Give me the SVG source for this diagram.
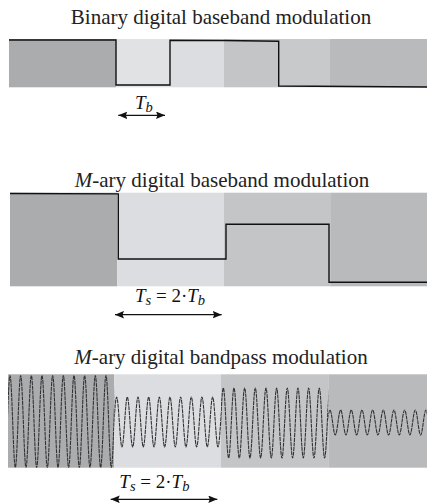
<svg xmlns="http://www.w3.org/2000/svg" width="427" height="504" viewBox="0 0 427 504">
  <style>
    .title { font-family: "Liberation Serif", "Times New Roman", serif; font-size: 21px; fill: #222; text-anchor: middle; }
    .lbl { font-family: "Liberation Serif", "Times New Roman", serif; font-size: 19px; fill: #111; }
    .it { font-style: italic; }
    .sub { font-size: 14.5px; }
    .sig { fill: none; stroke: #111; stroke-width: 1.4; stroke-linejoin: miter; }
    .wave { fill: none; stroke: #333; stroke-width: 1.1; stroke-dasharray: 4 0.7; }
    .dim { stroke: #111; stroke-width: 1.3; marker-start: url(#head); marker-end: url(#head); }
    .s1 { fill: #abacae; }
    .s2 { fill: #dcdde0; }
    .s3 { fill: #c4c5c7; }
    .s4 { fill: #b9babc; }
  </style>
  <defs>
    <marker id="head" markerUnits="userSpaceOnUse" markerWidth="10" markerHeight="8" refX="9" refY="3.8" orient="auto-start-reverse">
      <path d="M0,0 L9,3.8 L0,7.6 L1.5,3.8 Z" fill="#111"/>
    </marker>
    <clipPath id="c1"><rect x="8" y="374.3" width="106.3" height="93.4"/></clipPath>
    <clipPath id="c2"><rect x="114.3" y="374.3" width="106.7" height="93.4"/></clipPath>
    <clipPath id="c3"><rect x="221" y="374.3" width="107.3" height="93.4"/></clipPath>
    <clipPath id="c4"><rect x="328.3" y="374.3" width="98.7" height="93.4"/></clipPath>
  </defs>

  <!-- binary baseband -->
  <g id="binary-baseband">
    <text class="title" x="221" y="24">Binary digital baseband modulation</text>
    <rect class="s1" x="9" y="39" width="107" height="48.3"/>
    <rect fill="#e1e2e4" x="116" y="39" width="54" height="48.3"/>
    <rect class="s2" x="170" y="39" width="54" height="48.3"/>
    <rect class="s3" x="224" y="39" width="55" height="48.3"/>
    <rect fill="#c8c9cb" x="279" y="39" width="51" height="48.3"/>
    <rect class="s4" x="330" y="39" width="97" height="48.3"/>
    <path class="sig" d="M9,40 L116,40 L116,85 L170,85 L170,40.2 L224,40.5 L278.7,41.2 L278.7,86 L427,87"/>
  </g>

  <!-- M-ary baseband -->
  <g id="mary-baseband">
    <text class="title" x="222" y="186.7"><tspan class="it">M</tspan>-ary digital baseband modulation</text>
    <rect class="s1" x="10" y="192.7" width="107.3" height="93.6"/>
    <rect class="s2" x="117.3" y="192.7" width="106.7" height="93.6"/>
    <rect class="s3" x="224" y="192.7" width="107" height="93.6"/>
    <rect class="s4" x="331" y="192.7" width="96" height="93.6"/>
    <path class="sig" d="M10,193.5 L118.3,193.9 L118.3,259 L226,259 L226,224.3 L329,224.3 L329,282.3 L427,282.3"/>
  </g>

  <!-- M-ary bandpass -->
  <g id="mary-bandpass">
    <text class="title" x="221" y="364.3"><tspan class="it">M</tspan>-ary digital bandpass modulation</text>
    <rect class="s1" x="8" y="374.3" width="106.3" height="93.4"/>
    <rect class="s2" x="114.3" y="374.3" width="106.7" height="93.4"/>
    <rect class="s3" x="221" y="374.3" width="107.3" height="93.4"/>
    <rect class="s4" x="328.3" y="374.3" width="98.7" height="93.4"/>
    <!-- one carrier per symbol, cut at the symbol edges -->
    <path class="wave" clip-path="url(#c1)" d="M-0.665,375.5c1.943,0 3.389,92 5.3325,92s3.389,-92 5.3325,-92s3.389,92 5.3325,92s3.389,-92 5.3325,-92s3.389,92 5.3325,92s3.389,-92 5.3325,-92s3.389,92 5.3325,92s3.389,-92 5.3325,-92s3.389,92 5.3325,92s3.389,-92 5.3325,-92s3.389,92 5.3325,92s3.389,-92 5.3325,-92s3.389,92 5.3325,92s3.389,-92 5.3325,-92s3.389,92 5.3325,92s3.389,-92 5.3325,-92s3.389,92 5.3325,92s3.389,-92 5.3325,-92s3.389,92 5.3325,92s3.389,-92 5.3325,-92s3.389,92 5.3325,92s3.389,-92 5.3325,-92s3.389,92 5.3325,92s3.389,-92 5.3325,-92"/>
    <path class="wave" clip-path="url(#c2)" d="M105.985,397c1.943,0 3.389,50 5.3325,50s3.389,-50 5.3325,-50s3.389,50 5.3325,50s3.389,-50 5.3325,-50s3.389,50 5.3325,50s3.389,-50 5.3325,-50s3.389,50 5.3325,50s3.389,-50 5.3325,-50s3.389,50 5.3325,50s3.389,-50 5.3325,-50s3.389,50 5.3325,50s3.389,-50 5.3325,-50s3.389,50 5.3325,50s3.389,-50 5.3325,-50s3.389,50 5.3325,50s3.389,-50 5.3325,-50s3.389,50 5.3325,50s3.389,-50 5.3325,-50s3.389,50 5.3325,50s3.389,-50 5.3325,-50s3.389,50 5.3325,50s3.389,-50 5.3325,-50s3.389,50 5.3325,50s3.389,-50 5.3325,-50"/>
    <path class="wave" clip-path="url(#c3)" d="M212.635,388c1.943,0 3.389,70 5.3325,70s3.389,-70 5.3325,-70s3.389,70 5.3325,70s3.389,-70 5.3325,-70s3.389,70 5.3325,70s3.389,-70 5.3325,-70s3.389,70 5.3325,70s3.389,-70 5.3325,-70s3.389,70 5.3325,70s3.389,-70 5.3325,-70s3.389,70 5.3325,70s3.389,-70 5.3325,-70s3.389,70 5.3325,70s3.389,-70 5.3325,-70s3.389,70 5.3325,70s3.389,-70 5.3325,-70s3.389,70 5.3325,70s3.389,-70 5.3325,-70s3.389,70 5.3325,70s3.389,-70 5.3325,-70s3.389,70 5.3325,70s3.389,-70 5.3325,-70s3.389,70 5.3325,70s3.389,-70 5.3325,-70"/>
    <path class="wave" clip-path="url(#c4)" d="M319.285,410c1.943,0 3.389,25 5.3325,25s3.389,-25 5.3325,-25s3.389,25 5.3325,25s3.389,-25 5.3325,-25s3.389,25 5.3325,25s3.389,-25 5.3325,-25s3.389,25 5.3325,25s3.389,-25 5.3325,-25s3.389,25 5.3325,25s3.389,-25 5.3325,-25s3.389,25 5.3325,25s3.389,-25 5.3325,-25s3.389,25 5.3325,25s3.389,-25 5.3325,-25s3.389,25 5.3325,25s3.389,-25 5.3325,-25s3.389,25 5.3325,25s3.389,-25 5.3325,-25s3.389,25 5.3325,25s3.389,-25 5.3325,-25s3.389,25 5.3325,25s3.389,-25 5.3325,-25s3.389,25 5.3325,25s3.389,-25 5.3325,-25"/>
  </g>

  <!-- symbol-duration labels -->
  <g id="labels">
    <text class="lbl" x="135" y="108.7"><tspan class="it">T</tspan><tspan class="it sub" dy="3">b</tspan></text>
    <text class="lbl" x="135" y="302.3"><tspan class="it">T</tspan><tspan class="it sub" dy="3">s</tspan><tspan dy="-3"> = 2·</tspan><tspan class="it">T</tspan><tspan class="it sub" dy="3">b</tspan></text>
    <text class="lbl" x="119.3" y="487.7"><tspan class="it">T</tspan><tspan class="it sub" dy="3">s</tspan><tspan dy="-3"> = 2·</tspan><tspan class="it">T</tspan><tspan class="it sub" dy="3">b</tspan></text>
  </g>

  <g id="connectors">
    <line class="dim" x1="118.3" y1="115.3" x2="165" y2="115.3"/>
    <line class="dim" x1="115" y1="314.7" x2="221.7" y2="314.7"/>
    <line class="dim" x1="110.7" y1="499.3" x2="217.3" y2="499.3"/>
  </g>
</svg>
